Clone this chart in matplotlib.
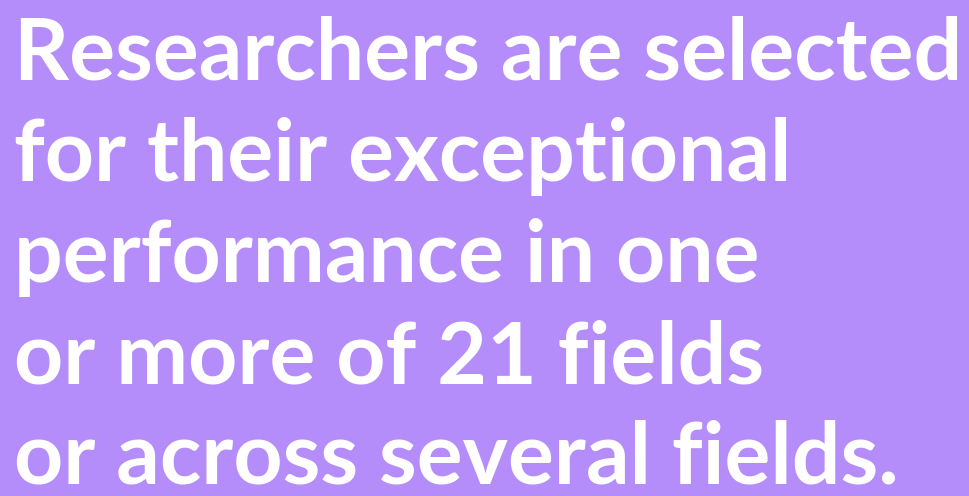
import matplotlib.pyplot as plt

# text lines of the card
lines = [
    "Researchers are selected",
    "for their exceptional",
    "performance in one",
    "or more of 21 fields",
    "or across several fields.",
]

W, H = 970, 496
fig = plt.figure(figsize=(W / 100, H / 100), dpi=100)
fig.patch.set_facecolor('#b48dfb')

x0 = 14
y_first = 80
step = 101
for i, txt in enumerate(lines):
    y = y_first + i * step
    fig.text(x0 / W, 1 - y / H, txt, fontsize=61.8, family='Lato',
             fontweight='bold', color='white', va='baseline', ha='left')

fig.savefig('out.png', dpi=100, facecolor=fig.get_facecolor())
